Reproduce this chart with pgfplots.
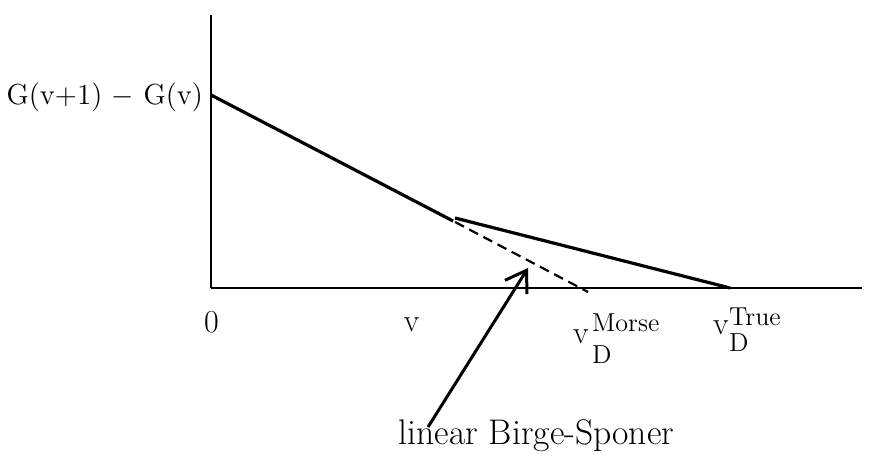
\documentclass[border=0pt]{standalone}
\usepackage{pgfplots}
\pgfplotsset{compat=1.18}
\usetikzlibrary{arrows.meta}

\begin{document}
\begin{tikzpicture}
\begin{axis}[
  scale only axis, width=325.5pt, height=136.5pt,
  xmin=0, xmax=651, ymin=0, ymax=273,
  axis lines=left,
  axis line style={-, line width=1.3pt, black},
  ticks=none, clip=false,
  every node/.append style={inner sep=0pt, outer sep=0pt, text=black},
]
% page frame
\path (axis cs:-211,-168) rectangle (axis cs:668,288);

% vibrational spacing: low-v linear part, then the bend towards the true limit
\addplot[line width=1.6pt, black] coordinates {(0,193) (242,67)};
\addplot[line width=1.6pt, black] coordinates {(244,70) (519,0)};
% linear Birge-Sponer extrapolation
\addplot[line width=1.1pt, black, dash pattern=on 5pt off 3pt] coordinates {(244,66) (377,-4)};
% pointer to the extrapolation
\addplot[line width=1.5pt, black, -{Straight Barb[length=10pt, width=13pt, line width=1.5pt]}]
  coordinates {(217,-139) (317,20)};

% labels
\node[anchor=base east, font=\fontsize{14.5}{17}\selectfont] at (axis cs:-1,183) {G(v+1) $-$ G(v)};
\node[anchor=base, font=\fontsize{16}{19}\selectfont] at (axis cs:0.5,-45) {0};
\node[anchor=base, font=\fontsize{16}{19}\selectfont] at (axis cs:200.5,-44) {v};

% Morse dissociation limit
\node[anchor=base west, font=\fontsize{16}{19}\selectfont] at (axis cs:355,-56) {v};
\node[anchor=base west, font=\fontsize{13}{15}\selectfont] at (axis cs:374,-44) {Morse};
\node[anchor=base west, font=\fontsize{13}{15}\selectfont] at (axis cs:374,-76) {D};

% true dissociation limit
\node[anchor=base west, font=\fontsize{16}{19}\selectfont] at (axis cs:495,-47) {v};
\node[anchor=base west, font=\fontsize{13}{15}\selectfont] at (axis cs:511,-38) {True};
\node[anchor=base west, font=\fontsize{13}{15}\selectfont] at (axis cs:511,-64) {D};

\node[anchor=base, font=\fontsize{17.8}{21}\selectfont] at (axis cs:325.5,-157) {linear Birge-Sponer};
\end{axis}
\end{tikzpicture}
\end{document}
